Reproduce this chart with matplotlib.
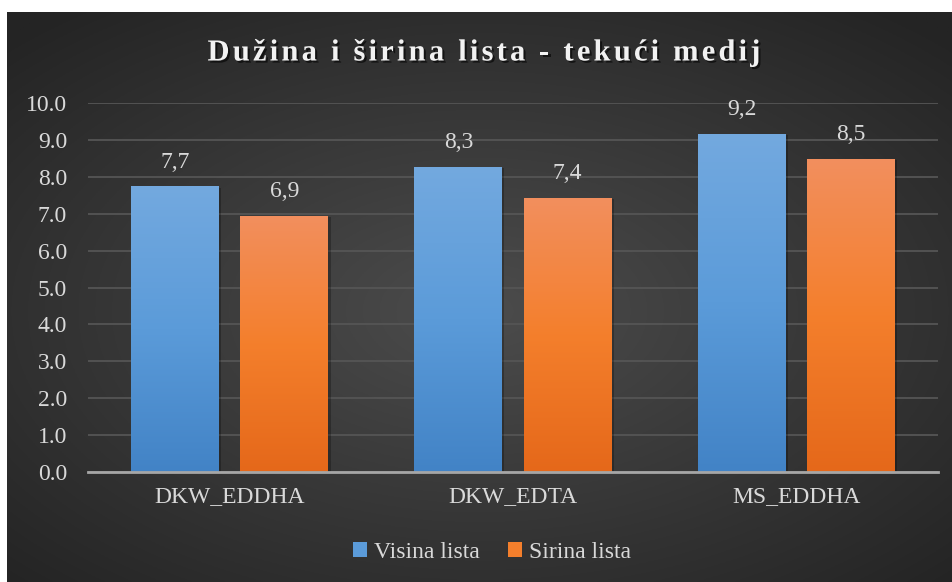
import matplotlib.pyplot as plt
import matplotlib.patches as patches
import matplotlib.patheffects as pe
from matplotlib.font_manager import FontProperties, findfont
import numpy as np
from matplotlib.colors import LinearSegmentedColormap, to_rgb

categories = ['DKW_EDDHA', 'DKW_EDTA', 'MS_EDDHA']
visina = [7.74, 8.27, 9.16]
sirina = [6.94, 7.43, 8.48]
series_names = ['Visina lista', 'Sirina lista']
title = "Dužina i širina lista - tekući medij"

# load the serif files directly so nothing falls back to a sans face
reg_file = findfont(FontProperties(family='Liberation Serif'))
bold_file = findfont(FontProperties(family='Liberation Serif', weight='bold'))
fp = FontProperties(fname=reg_file, size=17)
fp_title = FontProperties(fname=bold_file, size=22)
txt_color = '#d9d9d9'

fig = plt.figure(figsize=(9.53, 5.82), dpi=100)
fig.patch.set_facecolor('white')

# --- dark radial background panel ---
bg = fig.add_axes([7 / 953, 0, 1 - 7 / 953, 1 - 12 / 582])
bg.axis('off')
yy, xx = np.mgrid[-1:1:300j, -1:1:500j]
r = np.clip(np.sqrt((xx / 1.05) ** 2 + ((yy + 0.05) / 1.0) ** 2) / 1.35, 0, 1)
c0 = np.array(to_rgb('#4c4c4c'))
c1 = np.array(to_rgb('#242424'))
img = c0[None, None, :] * (1 - r[..., None]) + c1[None, None, :] * r[..., None]
bg.imshow(img, extent=(0, 1, 0, 1), aspect='auto', origin='lower')
bg.set_xlim(0, 1)
bg.set_ylim(0, 1)

# --- plot area ---
ax = fig.add_axes([88 / 953, 1 - 472 / 582, (938 - 88) / 953, (472 - 103) / 582])
ax.patch.set_alpha(0)
x = np.arange(len(categories))
w = 0.31
off = 0.193

grads = [
    LinearSegmentedColormap.from_list('b', ['#4283c6', '#5b9bd9', '#73a9df']),
    LinearSegmentedColormap.from_list('o', ['#e5681a', '#f47f2c', '#f28f5e']),
]
for vals, dx, cmap in [(visina, -off, grads[0]), (sirina, off, grads[1])]:
    bars = ax.bar(x + dx, vals, w, color='none', zorder=3)
    for b, v in zip(bars, vals):
        x0 = b.get_x()
        # soft shadow
        ax.add_patch(patches.Rectangle((x0 + 0.008, 0), w, v - 0.03, facecolor='black',
                                       alpha=0.25, zorder=2, linewidth=0))
        grad = np.linspace(0, 1, 256).reshape(-1, 1)
        im = ax.imshow(grad, extent=(x0, x0 + w, 0, v), origin='lower', aspect='auto',
                       cmap=cmap, zorder=3)
        im.set_clip_path(b)
        ax.annotate(f"{v:.1f}".replace('.', ','), (b.get_x() + w / 2, v),
                    xytext=(0, 10), textcoords='offset points', ha='center', va='bottom',
                    color=txt_color, fontproperties=fp)

ax.set_xlim(-0.5, 2.5)
ax.set_ylim(0, 10)
yt = np.arange(0, 10.5, 1.0)
ax.set_yticks(yt)
ax.set_yticklabels([f"{t:.1f}" for t in yt])
ax.set_xticks(x)
ax.set_xticklabels(categories)
ax.tick_params(axis='y', length=0, pad=15, labelcolor=txt_color)
ax.tick_params(axis='x', length=0, pad=10, labelcolor=txt_color)
for lab in ax.get_xticklabels() + ax.get_yticklabels():
    lab.set_fontproperties(fp)
ax.grid(axis='y', color='#555555', linewidth=1.3, zorder=0)
for s in ['top', 'right', 'left']:
    ax.spines[s].set_visible(False)
ax.spines['bottom'].set_color('#a6a6a6')
ax.spines['bottom'].set_linewidth(2)
ax.spines['bottom'].set_zorder(4)

# --- legend ---
handles = [patches.Patch(facecolor='#5b9bd9'), patches.Patch(facecolor='#f47f2c')]
leg = fig.legend(handles, series_names, loc='center', bbox_to_anchor=(492 / 953, 1 - 552 / 582),
                 ncol=2, frameon=False, prop=fp,
                 handlelength=0.6, handleheight=0.6,
                 handletextpad=0.3, columnspacing=1.2, labelcolor=txt_color)

# --- letter-spaced title ---
renderer = fig.canvas.get_renderer()
props = dict(color='#f2f2f2', fontproperties=fp_title)


def text_w(s):
    t = fig.text(0, 0, s, **props)
    wd = t.get_window_extent(renderer).width
    t.remove()
    return wd


base = text_w('||')
adv = [text_w('|' + c + '|') - base for c in title]
target = 553
sp = (target - sum(adv)) / (len(title) - 1)
xpos = 484 - target / 2
for c, a in zip(title, adv):
    fig.text(xpos / 953, 1 - 53 / 582, c, ha='left', va='center', **props,
             path_effects=[pe.withSimplePatchShadow(offset=(1.5, -1.5), shadow_rgbFace='black', alpha=0.6)])
    xpos += a + sp

fig.savefig('out.png', dpi=100)
